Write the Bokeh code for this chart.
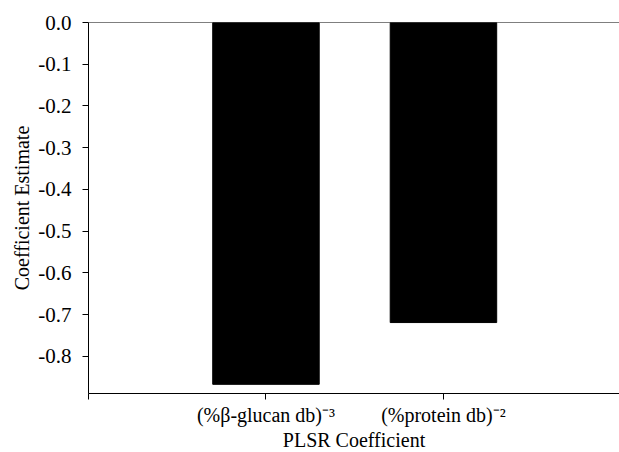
from bokeh.plotting import figure
from bokeh.models import FixedTicker, Range1d, Span
from bokeh.embed import file_html
from bokeh.resources import INLINE

categories = ["(%β-glucan db)⁻³", "(%protein db)⁻²"]
positions = [1, 2]
coefficients = [-0.867, -0.719]
y_ticks = [0.0, -0.1, -0.2, -0.3, -0.4, -0.5, -0.6, -0.7, -0.8]

FONT = "Liberation Serif"
FS = "20px"

p = figure(frame_width=531, frame_height=371, output_backend="svg", toolbar_location=None,
           x_range=Range1d(0, 2.992), y_range=Range1d(-0.889, 0.0),
           min_border_left=88, min_border_right=0, min_border_top=22, min_border_bottom=59)

p.vbar(x=positions, top=0, bottom=coefficients, width=0.6,
       fill_color="black", line_color="black")

p.add_layout(Span(location=0, dimension="width", line_color="black", line_width=1.2))

p.xgrid.visible = False
p.ygrid.visible = False
p.outline_line_color = None
p.background_fill_color = "white"
p.border_fill_color = "white"

# y axis
ya = p.yaxis[0]
ya.ticker = FixedTicker(ticks=y_ticks)
ya.major_label_overrides = {t: f"{t:.1f}" for t in y_ticks}
ya.major_label_overrides[0.0] = "0.0"
ya.minor_tick_line_color = None
ya.major_tick_out = 6
ya.major_tick_in = 0
ya.axis_line_color = "black"
ya.major_tick_line_color = "black"
ya.major_label_text_font = FONT
ya.major_label_text_font_size = "21px"
ya.major_label_text_color = "black"
ya.major_label_standoff = 11
ya.axis_label = "Coefficient Estimate"
ya.axis_label_text_font = FONT
ya.axis_label_text_font_size = FS
ya.axis_label_text_font_style = "normal"
ya.axis_label_text_color = "black"
ya.axis_label_standoff = 2

# x axis
xa = p.xaxis[0]
xa.ticker = FixedTicker(ticks=[0] + positions)
overrides = {0: ""}
for pos, cat in zip(positions, categories):
    overrides[pos] = cat
xa.major_label_overrides = overrides
xa.minor_tick_line_color = None
xa.major_tick_out = 6
xa.major_tick_in = 0
xa.axis_line_color = "black"
xa.major_tick_line_color = "black"
xa.major_label_text_font = FONT
xa.major_label_text_font_size = FS
xa.major_label_text_color = "black"
xa.major_label_standoff = 4
xa.axis_label = "PLSR Coefficient"
xa.axis_label_text_font = FONT
xa.axis_label_text_font_size = FS
xa.axis_label_text_font_style = "normal"
xa.axis_label_text_color = "black"
xa.axis_label_standoff = 0

open("out.html", "w").write(file_html(p, INLINE))
